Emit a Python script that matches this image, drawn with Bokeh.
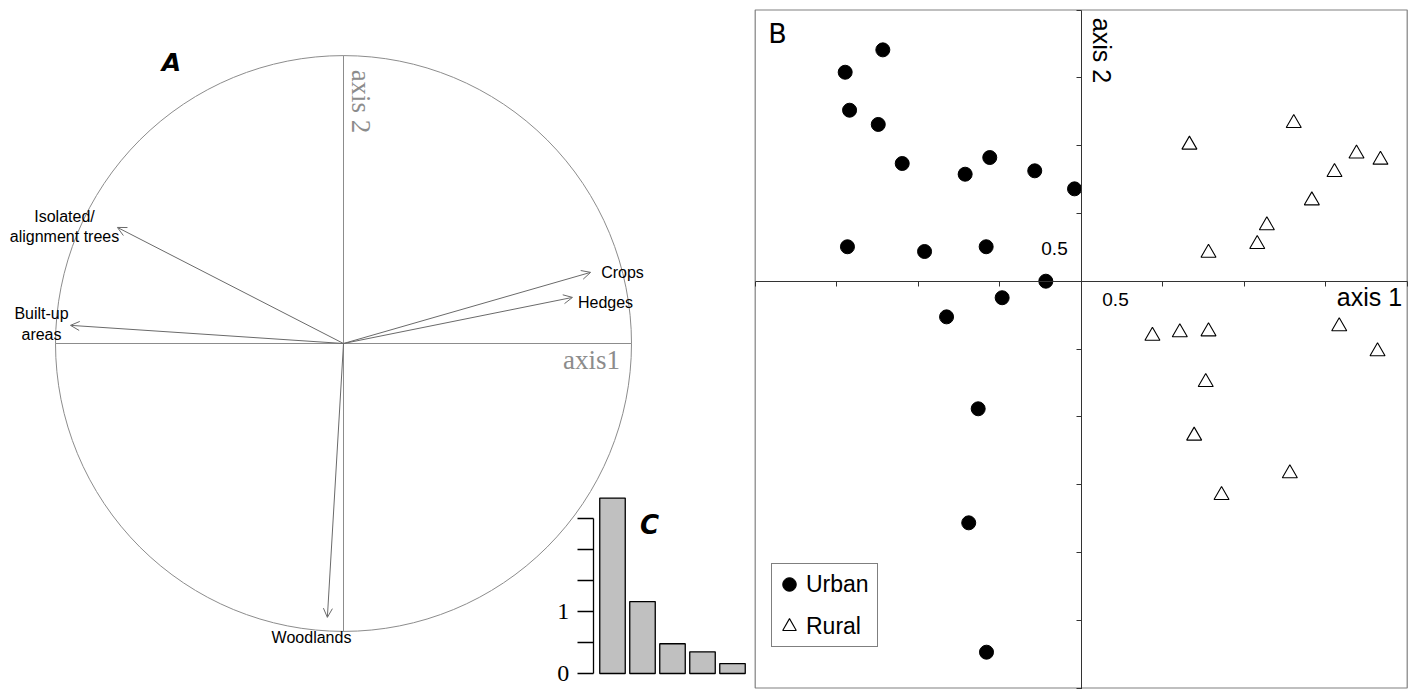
import math
from bokeh.plotting import figure
from bokeh.layouts import row
from bokeh.models import (Arrow, OpenHead, Range1d, LinearAxis, FixedTicker,
                          Legend, LegendItem, Label)
from bokeh.core.properties import value
from bokeh.embed import file_html
from bokeh.resources import INLINE

# ---------------- data ----------------
# Panel A: correlation circle (variable loadings on axis 1 / axis 2)
variables = ["Isolated/\nalignment trees", "Built-up\nareas", "Crops", "Hedges", "Woodlands"]
var_axis1 = [-0.785, -0.948, 0.858, 0.795, -0.056]
var_axis2 = [0.403, 0.063, 0.247, 0.160, -0.951]

# Panel C: eigenvalues
eig_rank = [1, 2, 3, 4, 5]
eig_values = [2.83, 1.16, 0.48, 0.35, 0.16]
eig_ticks = [0, 0.5, 1, 1.5, 2, 2.5]
eig_tick_labels = ["0", "", "1", "", "", ""]

# Panel B: site scores
urban_x = [-1.217, -1.448, -1.421, -1.245, -1.098, -0.712, -0.561, -0.285, -0.041,
           -1.434, -0.961, -0.583, -0.217, -0.485, -0.826, -0.632, -0.690, -0.581]
urban_y = [1.706, 1.541, 1.261, 1.156, 0.868, 0.789, 0.912, 0.814, 0.681,
           0.254, 0.219, 0.254, 0.000, -0.122, -0.263, -0.941, -1.782, -2.736]
rural_x = [0.664, 1.304, 1.689, 1.836, 1.554, 1.415, 1.139, 1.080, 0.781,
           0.437, 0.605, 0.781, 1.583, 1.818, 0.764, 0.693, 1.280, 0.861]
rural_y = [1.006, 1.165, 0.940, 0.895, 0.804, 0.595, 0.411, 0.273, 0.209,
           -0.403, -0.378, -0.371, -0.334, -0.518, -0.745, -1.140, -1.418, -1.578]
b_xticks = [-2.0, -1.5, -1.0, -0.5, 0.0, 0.5, 1.0, 1.5, 2.0]
b_yticks = [-3.0, -2.5, -2.0, -1.5, -1.0, -0.5, 0.0, 0.5, 1.0, 1.5, 2.0]
legend_labels = ["Urban", "Rural"]

# ---------------- layout constants ----------------
H = 689
W_A = 753
W_B = 662
SANS = "Liberation Sans"
SERIF = "Liberation Serif"
HAND = "DejaVu Sans"
GREY = "#8c8c8c"

# ---------------- Panel A (+ C) ----------------
SA = 288.0               # px per unit of the correlation circle
CXA, CYA = 343.0, 343.0  # page position of circle centre
ax0 = -CXA / SA
ay1 = CYA / SA
fa = figure(width=W_A, height=H, x_range=Range1d(ax0, ax0 + W_A / SA),
            y_range=Range1d(ay1 - H / SA, ay1), output_backend="svg",
            toolbar_location=None, x_axis_type=None, y_axis_type=None,
            min_border=0, outline_line_color=None)

def pa(px, py):
    return ((px - CXA) / SA, (CYA - py) / SA)

fa.circle(x=[0], y=[0], radius=1, fill_color=None, line_color=GREY, line_width=1)
fa.segment(x0=[-1, 0], y0=[0, -1], x1=[1, 0], y1=[0, 1], line_color=GREY, line_width=1)

for vx, vy in zip(var_axis1, var_axis2):
    fa.add_layout(Arrow(end=OpenHead(size=9, line_color="#6a6a6a", line_width=1),
                        x_start=0, y_start=0, x_end=vx, y_end=vy,
                        line_color="#6a6a6a", line_width=1))

label_px = [(64, 226), (41, 323.5), (622, 272), (605, 302), (311, 637)]
lx = [pa(*p)[0] for p in label_px]
ly = [pa(*p)[1] for p in label_px]
fa.text(x=lx, y=ly, text=variables, text_font=value(SANS), text_font_size="16px",
        text_align="center", text_baseline="middle", text_color="black",
        text_line_height=1.2)

x1, y1 = pa(591, 359)
fa.add_layout(Label(x=x1, y=y1, text="axis1", text_font=SERIF, text_font_size="27px",
                    text_color=GREY, text_align="center", text_baseline="middle"))
x2, y2 = pa(360, 101)
fa.add_layout(Label(x=x2, y=y2, text="axis 2", text_font=SERIF, text_font_size="27px",
                    text_color=GREY, text_align="center", text_baseline="middle",
                    angle=-math.pi / 2))
xa, ya = pa(171, 62)
fa.add_layout(Label(x=xa, y=ya, text="A", text_font=HAND, text_font_size="25px",
                    text_font_style="bold italic", text_color="black",
                    text_align="center", text_baseline="middle"))

# Panel C drawn in the same canvas through its own ranges
CX0, CW = 582.0, 30.0   # page x of rank 0, px per rank
CY0, CH = 673.0, 62.0   # page y of eigenvalue 0, px per unit
fa.extra_x_ranges = {"cx": Range1d(-CX0 / CW, (W_A - CX0) / CW)}
fa.extra_y_ranges = {"cy": Range1d((CY0 - H) / CH, CY0 / CH)}
fa.vbar(x=eig_rank, top=eig_values, bottom=0, width=0.85, fill_color="#c0c0c0",
        line_color="black", line_width=1.3, x_range_name="cx", y_range_name="cy")
c_axis = LinearAxis(x_range_name="cx", y_range_name="cy",
                    fixed_location=(592.7 - CX0) / CW,
                    bounds=(eig_ticks[0], eig_ticks[-1]),
                    ticker=FixedTicker(ticks=eig_ticks, minor_ticks=[]),
                    major_label_overrides=dict(zip(eig_ticks, eig_tick_labels)),
                    major_tick_out=16, major_tick_in=0, minor_tick_out=0, minor_tick_in=0,
                    axis_line_color="black", axis_line_width=1.3,
                    major_tick_line_color="black", major_tick_line_width=1.3,
                    major_label_text_font=SERIF, major_label_text_font_size="24px",
                    major_label_text_color="black", major_label_standoff=8)
fa.add_layout(c_axis, "left")
xc, yc = pa(649, 524)
fa.add_layout(Label(x=xc, y=yc, text="C", text_font=HAND, text_font_size="26px",
                    text_font_style="bold italic", text_color="black",
                    text_align="center", text_baseline="middle"))

# ---------------- Panel B ----------------
SBX = 163.0      # px per unit, axis 1
SBY = 135.6      # px per unit, axis 2
OBX, OBY = 1080.7, 280.7   # page position of the origin
B_LEFT = 753.0
bx_min, bx_max = min(b_xticks), max(b_xticks)
by_min, by_max = min(b_yticks), max(b_yticks)
bx0 = (B_LEFT - OBX) / SBX
by1 = OBY / SBY
fb = figure(width=W_B, height=H, x_range=Range1d(bx0, bx0 + W_B / SBX),
            y_range=Range1d(by1 - H / SBY, by1), output_backend="svg",
            toolbar_location=None, x_axis_type=None, y_axis_type=None,
            min_border=0, outline_line_color=None)

def pb(px, py):
    return ((px - OBX) / SBX, (OBY - py) / SBY)

fb.quad(left=[bx_min], right=[bx_max], bottom=[by_min], top=[by_max],
        fill_color=None, line_color="#808080", line_width=1.2)

hx = LinearAxis(fixed_location=0, bounds=(bx_min, bx_max),
                ticker=FixedTicker(ticks=b_xticks, minor_ticks=[]),
                major_label_text_color=None, major_tick_out=5, major_tick_in=0,
                minor_tick_out=0, minor_tick_in=0,
                axis_line_color="#333333", major_tick_line_color="#333333")
fb.add_layout(hx, "below")
vy_ax = LinearAxis(fixed_location=0, bounds=(by1 - H / SBY, by_max),
                   ticker=FixedTicker(ticks=b_yticks, minor_ticks=[]),
                   major_label_text_color=None, major_tick_out=5, major_tick_in=0,
                   minor_tick_out=0, minor_tick_in=0,
                   axis_line_color="#333333", major_tick_line_color="#333333")
fb.add_layout(vy_ax, "left")

r_u = fb.scatter(urban_x, urban_y, marker="circle", size=14,
                 fill_color="black", line_color="black")
r_r = fb.scatter(rural_x, rural_y, marker="triangle", size=15,
                 fill_color="white", line_color="black", line_width=1.1)

for txt, (px, py), size, ang in [("0.5", (1054, 248), "19px", 0),
                                 ("0.5", (1115, 299), "19px", 0),
                                 ("axis 1", (1369, 296), "25px", 0),
                                 ("axis 2", (1101, 50), "25px", -math.pi / 2)]:
    bx, byy = pb(px, py)
    fb.add_layout(Label(x=bx, y=byy, text=txt, text_font=SANS, text_font_size=size,
                        text_color="black", text_align="center",
                        text_baseline="middle", angle=ang))
bxl, byl = pb(777, 33)
fb.add_layout(Label(x=bxl, y=byl, text="B", text_font=HAND, text_font_size="27px",
                    text_color="black", text_align="center", text_baseline="middle"))

legend = Legend(items=[LegendItem(label=legend_labels[0], renderers=[r_u]),
                       LegendItem(label=legend_labels[1], renderers=[r_r])],
                location=(18, 42), orientation="vertical",
                label_text_font=SANS, label_text_font_size="23px",
                label_text_color="black",
                glyph_width=34, glyph_height=40, spacing=2, padding=0,
                label_standoff=0, label_width=71, margin=0,
                border_line_color="black", border_line_width=1.2,
                background_fill_color="white", background_fill_alpha=1.0)
fb.add_layout(legend)

layout = row(fa, fb, spacing=0)
open("out.html", "w").write(file_html(layout, INLINE))
